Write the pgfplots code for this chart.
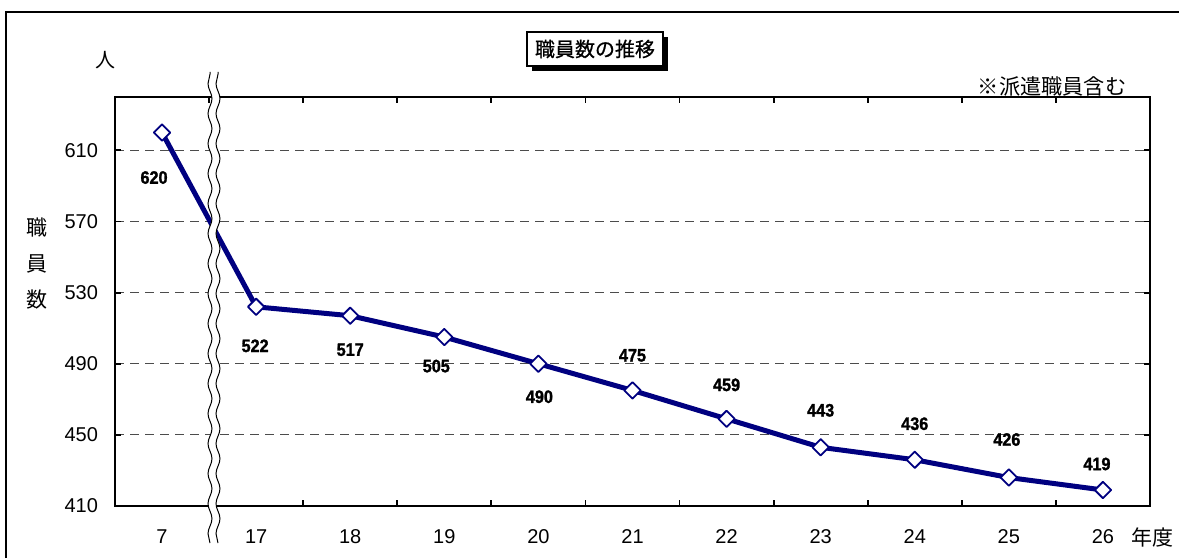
\documentclass[border=0pt]{standalone}
\usepackage{pgfplots}
\pgfplotsset{compat=1.18}
\usepackage{pgfplotstable}
\usepackage{fontspec}
\setmainfont{Liberation Sans}
\newfontfamily\cjk{Noto Sans CJK JP}
\newfontfamily\cjkb[FakeBold=0.8]{Noto Sans CJK JP}
\newfontfamily\lblfont[FakeBold=1.5, FakeStretch=0.9]{Liberation Sans Bold}
\usetikzlibrary{decorations.pathmorphing}
\definecolor{navy}{RGB}{0,0,128}
\pgfplotstableread{
x y dx dy
0 620 -4 -22.5
1 522 -0.5 -19.5
2 517 0 -17
3 505 -4 -14.5
4 490 0.5 -16.5
5 475 0 17.5
6 459 0 17
7 443 0 18.5
8 436 0 18
9 426 -1 19
10 419 -3 13
}\datatable
\begin{document}
\begin{tikzpicture}
\useasboundingbox (0pt,0pt) rectangle (589.5pt,279pt);
% outer frame (left and top)
\draw[line width=1pt] (3pt,0pt) -- (3pt,273pt) -- (589.5pt,273pt);
\begin{axis}[
  at={(57.5pt,26pt)}, anchor=south west,
  scale only axis, width=517.5pt, height=204.5pt,
  xmin=-0.5, xmax=10.5, ymin=410, ymax=640,
  /pgf/number format/assume math mode=true,
  axis line style={line width=1.4pt},
  ytick={410,450,...,610},
  ymajorgrids,
  grid style={black!70, line width=0.5pt, dash pattern=on 4.5pt off 3pt},
  tick style={black, line width=0.9pt},
  major tick length=3pt,
  tick align=inside,
  xtick={0.5,1.5,...,9.5}, xticklabels={},
  extra x ticks={0,1,...,10},
  extra x tick labels={7,17,18,19,20,21,22,23,24,25,26},
  extra x tick style={major tick length=0pt},
  xticklabel style={anchor=center, yshift=-15.5pt, font=\fontsize{10}{11}\selectfont},
  yticklabel style={anchor=east, xshift=-5pt, font=\fontsize{10}{11}\selectfont},
  clip=false,
]
\addplot[navy, line width=2.5pt, line join=round,
  mark=square*, mark size=2.9pt,
  mark options={rotate=45, fill=white, draw=navy, line width=0.9pt},
  nodes near coords, point meta=explicit symbolic,
  visualization depends on={\thisrow{dx} \as \dx},
  visualization depends on={\thisrow{dy} \as \dy},
  every node near coord/.append style={anchor=center, xshift=\dx pt, yshift=\dy pt,
    font=\lblfont\fontsize{9}{10}\selectfont, text=black}
] table[x=x, y=y, meta=y] {\datatable};
\end{axis}
% axis break
\draw[white, line width=4pt, decorate, decoration={snake, amplitude=1pt, segment length=15pt}] (107pt,7.5pt) -- (107pt,243pt);
\draw[black, line width=0.5pt, decorate, decoration={snake, amplitude=1pt, segment length=15pt}] (105pt,7.5pt) -- (105pt,243pt);
\draw[black, line width=0.5pt, decorate, decoration={snake, amplitude=1pt, segment length=15pt}] (109pt,7.5pt) -- (109pt,243pt);
% texts
\node[font=\cjk\fontsize{10}{11}\selectfont] at (52.5pt,249pt) {人};
\fill[black] (266pt,243.5pt) rectangle (334pt,260.5pt);
\draw[fill=white, line width=0.75pt] (263.5pt,246pt) rectangle (331.5pt,263pt);
\node[font=\cjkb\fontsize{10}{11}\selectfont] at (297.5pt,254.5pt) {職員数の推移};
\node[font=\cjk\fontsize{10.6}{12}\selectfont] at (526pt,236pt) {※派遣職員含む};
\node[font=\cjk\fontsize{10.5}{11}\selectfont] at (18.5pt,165pt) {職};
\node[font=\cjk\fontsize{10.5}{11}\selectfont] at (18.5pt,147pt) {員};
\node[font=\cjk\fontsize{10.5}{11}\selectfont] at (18.5pt,129pt) {数};
\node[font=\cjk\fontsize{10.5}{12}\selectfont] at (576pt,10.5pt) {年度};
\end{tikzpicture}
\end{document}
